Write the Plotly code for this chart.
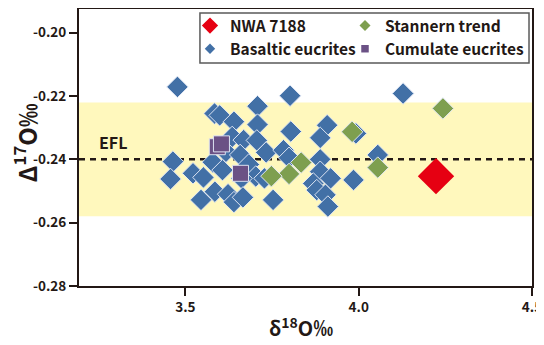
import plotly.graph_objects as go

# ---------------- data ----------------
basaltic_d18O = [3.477, 4.128, 3.802, 3.708, 3.584, 3.599, 3.640, 3.708, 3.909, 3.804,
                 3.889, 3.992, 3.635, 3.668, 3.706, 3.617, 3.733, 3.658, 3.783, 3.799,
                 3.889, 4.055, 3.464, 3.579, 3.683, 3.457, 3.522, 3.552, 3.607, 3.703,
                 3.662, 3.728, 3.889, 3.919, 3.869, 3.985, 3.879, 3.904, 3.911, 3.585,
                 3.623, 3.545, 3.640, 3.666, 3.753]
basaltic_D17O = [-0.2171, -0.2192, -0.2199, -0.2232, -0.2255, -0.2261, -0.2281, -0.2290, -0.2292, -0.2312,
                 -0.2332, -0.2318, -0.2329, -0.2339, -0.2340, -0.2376, -0.2378, -0.2386, -0.2371, -0.2395,
                 -0.2400, -0.2386, -0.2407, -0.2409, -0.2416, -0.2462, -0.2444, -0.2457, -0.2434, -0.2454,
                 -0.2460, -0.2460, -0.2439, -0.2460, -0.2476, -0.2465, -0.2497, -0.2512, -0.2549, -0.2502,
                 -0.2510, -0.2528, -0.2535, -0.2520, -0.2528]

stannern_d18O = [4.243, 3.981, 4.055, 3.834, 3.799, 3.748]
stannern_D17O = [-0.2239, -0.2313, -0.2426, -0.2410, -0.2446, -0.2453]

cumulate_d18O = [3.592, 3.604, 3.659]
cumulate_D17O = [-0.2360, -0.2351, -0.2444]

nwa_d18O = [4.223]
nwa_D17O = [-0.2453]

efl_value = -0.240
efl_low, efl_high = -0.258, -0.222

x_ticks = [3.5, 4.0, 4.5]
x_ticktext = ["3.5", "4.0", "4.5"]
y_ticks = [-0.28, -0.26, -0.24, -0.22, -0.20]
y_ticktext = ["-0.28", "-0.26", "-0.24", "-0.22", "-0.20"]

# ---------------- style ----------------
FONT = "Noto Sans CJK SC"
DARK = "#231815"
BLUE = "#4270a6"
GREEN = "#7e9f4f"
PURPLE = "#6b5185"
RED = "#e60012"
OUTLINE = "rgba(225,232,245,0.95)"

fig = go.Figure()

fig.add_trace(go.Scatter(x=basaltic_d18O, y=basaltic_D17O, mode="markers", showlegend=False,
                         marker=dict(symbol="diamond", size=16.5, color=BLUE,
                                     line=dict(color=OUTLINE, width=1))))
fig.add_trace(go.Scatter(x=cumulate_d18O, y=cumulate_D17O, mode="markers", showlegend=False,
                         marker=dict(symbol="square", size=16, color=PURPLE,
                                     line=dict(color=OUTLINE, width=1))))
fig.add_trace(go.Scatter(x=stannern_d18O, y=stannern_D17O, mode="markers", showlegend=False,
                         marker=dict(symbol="diamond", size=16.5, color=GREEN,
                                     line=dict(color=OUTLINE, width=1))))
fig.add_trace(go.Scatter(x=nwa_d18O, y=nwa_D17O, mode="markers", showlegend=False,
                         marker=dict(symbol="diamond", size=28, color=RED,
                                     line=dict(width=0))))

# legend entries (two columns via two legends)
fig.add_trace(go.Scatter(x=[None], y=[None], mode="markers", name="NWA 7188", legend="legend",
                         marker=dict(symbol="diamond", size=12.5, color=RED)))
fig.add_trace(go.Scatter(x=[None], y=[None], mode="markers", name="Basaltic eucrites", legend="legend",
                         marker=dict(symbol="diamond", size=8, color=BLUE)))
fig.add_trace(go.Scatter(x=[None], y=[None], mode="markers", name="Stannern trend", legend="legend2",
                         marker=dict(symbol="diamond", size=8.5, color=GREEN)))
fig.add_trace(go.Scatter(x=[None], y=[None], mode="markers", name="Cumulate eucrites", legend="legend2",
                         marker=dict(symbol="square", size=7.5, color=PURPLE)))

# EFL band and line
fig.add_shape(type="rect", xref="paper", x0=0, x1=1, yref="y", y0=efl_low, y1=efl_high,
              fillcolor="#fff8bd", line=dict(width=0), layer="below")
fig.add_shape(type="line", xref="paper", x0=0, x1=1, yref="y", y0=efl_value, y1=efl_value,
              line=dict(color=DARK, width=2.5, dash="6px,5px"), layer="below")
fig.add_annotation(x=3.29, y=-0.2346, text="EFL", showarrow=False,
                   font=dict(family=FONT, size=16, color=DARK, weight="bold"))

# legend box
fig.add_shape(type="rect", xref="paper", yref="paper",
              x0=0.267, x1=0.9934, y0=0.805, y1=0.9856,
              fillcolor="white", line=dict(color="#5a5a5a", width=1.5), layer="above")

legend_common = dict(bgcolor="rgba(0,0,0,0)", borderwidth=0, xanchor="left", yanchor="top",
                     font=dict(family=FONT, size=15.5, color=DARK, weight="bold"),
                     itemwidth=30, tracegroupgap=0, y=1.0)
fig.update_layout(
    legend=dict(x=0.245, **legend_common),
    legend2=dict(x=0.5872, **legend_common),
)

# axis titles as annotations
fig.add_annotation(xref="paper", yref="paper", x=-0.1181, y=0.516, textangle=-90,
                   text="Δ<sup>17</sup>O‰", showarrow=False, xanchor="center", yanchor="middle",
                   font=dict(family=FONT, size=24, color=DARK, weight="bold"))
fig.add_annotation(xref="paper", yref="paper", x=0.49, y=-0.2094,
                   text="δ<sup>18</sup>O‰", showarrow=False, xanchor="center", yanchor="bottom",
                   font=dict(family=FONT, size=20, color=DARK, weight="bold"))

axis_common = dict(showline=True, mirror=True, linecolor=DARK, linewidth=2,
                   ticks="outside", ticklen=8, tickwidth=2, tickcolor=DARK,
                   showgrid=False, zeroline=False, automargin=False,
                   tickfont=dict(family=FONT, size=13.5, color=DARK, weight="bold"))
fig.update_xaxes(range=[3.193, 4.5], tickvals=x_ticks, ticktext=x_ticktext, **axis_common)
fig.update_yaxes(range=[-0.28, -0.1925], tickvals=y_ticks, ticktext=y_ticktext, **axis_common)

# page body has an 8px default margin, so the figure is 8px smaller than the window
fig.update_layout(width=536, height=337, margin=dict(l=71, r=12, t=1, b=59),
                  paper_bgcolor="white", plot_bgcolor="white",
                  font=dict(family=FONT, color=DARK))

fig.write_html("out.html")
